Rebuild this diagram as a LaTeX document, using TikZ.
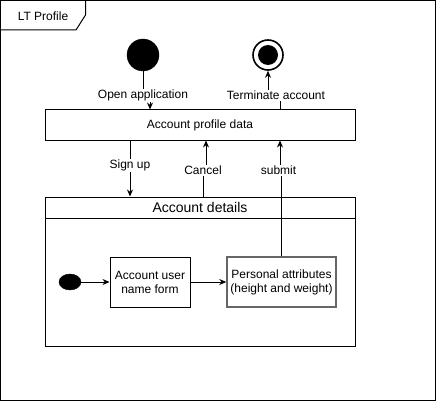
\documentclass[tikz,border=0pt]{standalone}
\usepackage{fontspec}
\setmainfont{Liberation Sans}
\usetikzlibrary{shapes, arrows.meta, positioning, calc}
\tikzset{
  frameB/.style={draw=black, line width=1pt},
  stateB/.style={rectangle, draw=black, fill=white, line width=1pt,
                 inner sep=2pt, align=center, font=\fontsize{12}{14}\selectfont},
  hiliteB/.style={stateB, draw=black!60, line width=1.5pt},
  initV/.style={circle, draw=black, fill=black,
                inner sep=0pt, minimum size=32pt},
  finalV/.style={circle, draw=black, fill=white, line width=1.6pt,
                 inner sep=0pt, minimum size=30pt,
                 path picture={\fill[black] (path picture bounding box.center) circle (10pt);}},
  initE/.style={ellipse, draw=black, fill=black,
                inner sep=0pt, minimum width=22pt, minimum height=16pt},
  lbl/.style={fill=white, inner sep=1pt, font=\fontsize{12}{14}\selectfont},
  flow/.style={draw=black, line width=1pt, -{Stealth[length=7pt,width=6pt]}},
}
\begin{document}
\begin{tikzpicture}[x=1pt, y=-1pt]
    \useasboundingbox (0,0) rectangle (436,401);
    %% frame and its tab
    \draw[frameB] (0.5,0.5) rectangle (435.5,400.5);
    \draw[frameB] (0.5,30) -- (76,30) -- (85.5,15) -- (85.5,0.5);
    \node[font=\fontsize{12}{14}\selectfont] (tab) at (43,16) {LT Profile};
    %% states
    \node[initV] (start) at (143,55) {};
    \node[finalV] (final) at (268,55) {};
    \node[stateB, minimum width=310pt, minimum height=30pt] (profile) at (200,125) {Account profile data};
    %% composite state
    \node[stateB, minimum width=310pt, minimum height=149pt] (details) at (200,271.5) {};
    \node[stateB, minimum width=310pt, minimum height=21pt, anchor=north,
          font=\fontsize{14}{16}\selectfont] (detailsHead) at (details.north) {Account details};
    \node[initE] (init) at (70,282) {};
    \node[stateB, minimum width=80pt, minimum height=50pt] (form) at (150,282) {Account user\\name form};
    \node[hiliteB, minimum width=109pt, minimum height=50pt] (attrs) at (281.5,282) {Personal attributes\\(height and weight)};
    %% transitions
    \draw[flow] (start.south) -- ++(0,24) node[lbl] {Open application}
      -| ([xshift=-50pt]profile.north);
    \draw[flow] ([xshift=80pt]profile.north) -- ++(0,-14) node[lbl, xshift=-4pt] {Terminate account}
      -| (final.south);
    \draw[flow] ([xshift=-70pt]profile.south) -- node[lbl, pos=0.45] {Sign up}
      ([xshift=-70pt]detailsHead.north);
    \draw[flow] ([xshift=3pt]detailsHead.north) -- ++(0,-26) node[lbl] {Cancel}
      -| ([xshift=6pt]profile.south);
    \draw[flow] (attrs.north) -- ++(0,-86) node[lbl, xshift=-3pt] {submit}
      -| ([xshift=80pt]profile.south);
    \draw[flow] (init) -- (form);
    \draw[flow] (form) -- (attrs);
\end{tikzpicture}
\end{document}
